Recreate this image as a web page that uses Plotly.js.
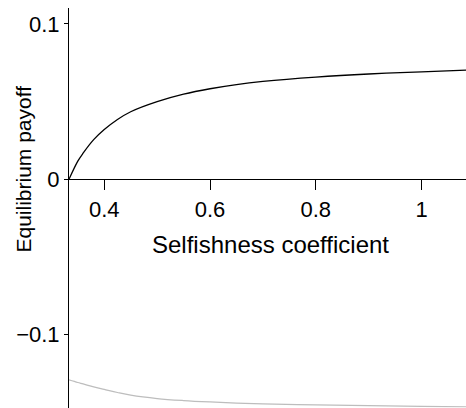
<!DOCTYPE html>
<html>
<head>
<meta charset="utf-8">
<script src="https://cdn.plot.ly/plotly-3.0.1.min.js"></script>
<style>html,body{margin:0;padding:0;background:#fff;}#chart{width:466px;height:408px;}</style>
</head>
<body>
<div id="chart"></div>
<script>
// Selfishness coefficient values (x)
var selfishness = [0.3333, 0.35, 0.36, 0.38, 0.40, 0.425, 0.45, 0.50, 0.55, 0.60, 0.65, 0.70, 0.80, 0.90, 1.00, 1.09];
// Upper (black) equilibrium payoff
var payoffUpper = [0.0, 0.0117, 0.0168, 0.0255, 0.0320, 0.0385, 0.0435, 0.0500, 0.0548, 0.0583, 0.0610, 0.0630, 0.0658, 0.0678, 0.0692, 0.0703];
// Lower (grey) equilibrium payoff
var payoffLower = [-0.1292, -0.1309, -0.1318, -0.1337, -0.1353, -0.1373, -0.1390, -0.1412, -0.1425, -0.1434, -0.1441, -0.1446, -0.1453, -0.1458, -0.1462, -0.1465];
var xTicks = [0.4, 0.6, 0.8, 1];
var yTicks = [-0.1, 0, 0.1];
var xTitle = "Selfishness coefficient";
var yTitle = "Equilibrium payoff";

var yRange = [-0.1473, 0.1103];
var xRange = [1/3, 1.084];
var font = "Liberation Sans, Arial, Helvetica, sans-serif";

var traces = [
  {x: selfishness, y: payoffLower, mode: "lines", line: {color: "#bdbdbd", width: 1.2, shape: "spline"}, hoverinfo: "skip", showlegend: false},
  {x: selfishness, y: payoffUpper, mode: "lines", line: {color: "#000000", width: 1.3, shape: "spline"}, hoverinfo: "skip", showlegend: false}
];

var zeroPos = (0 - yRange[0]) / (yRange[1] - yRange[0]);

var layout = {
  width: 466, height: 408,
  margin: {l: 69, r: 0, t: 8, b: 0, pad: 0},
  paper_bgcolor: "#fff", plot_bgcolor: "#fff",
  font: {family: font, color: "#000", size: 22},
  showlegend: false,
  xaxis: {
    range: xRange, anchor: "free", position: zeroPos,
    showline: true, linecolor: "#000", linewidth: 1,
    ticks: "outside", ticklen: 10, tickwidth: 1, tickcolor: "#000",
    tickvals: xTicks, showgrid: false, zeroline: false,
    tickfont: {family: font, size: 22, color: "#000"}
  },
  yaxis: {
    range: yRange,
    showline: true, linecolor: "#000", linewidth: 1,
    ticks: "outside", ticklen: 4, tickwidth: 1, tickcolor: "#000",
    tickvals: yTicks, showgrid: false, zeroline: false,
    tickfont: {family: font, size: 22, color: "#000"}
  },
  annotations: [
    {text: xTitle, xref: "paper", yref: "paper", x: 0.508, y: 0.408, xanchor: "center", yanchor: "middle", showarrow: false, font: {family: font, size: 24, color: "#000"}},
    {text: yTitle, xref: "paper", yref: "paper", x: -0.117, y: 0.5975, xanchor: "center", yanchor: "middle", textangle: -90, showarrow: false, font: {family: font, size: 21, color: "#000"}}
  ]
};

Plotly.newPlot("chart", traces, layout, {displayModeBar: false, staticPlot: true});
</script>
</body>
</html>
